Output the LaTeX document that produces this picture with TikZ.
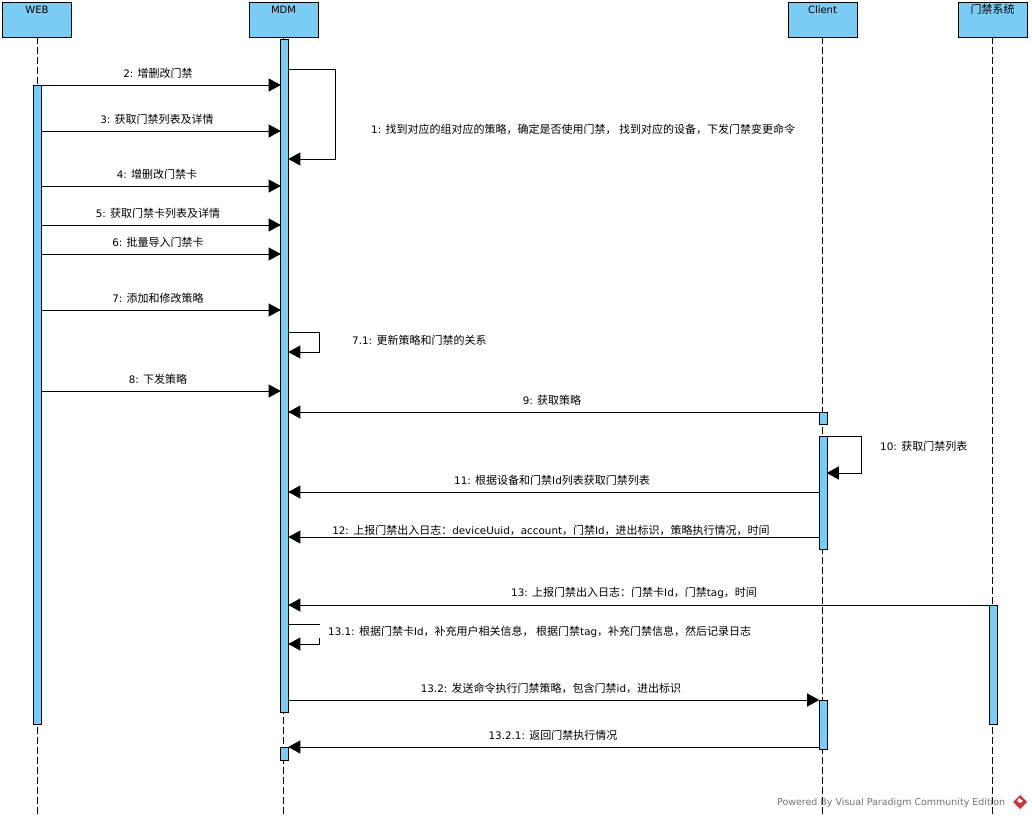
\documentclass[tikz,border=0pt]{standalone}
\usepackage{fontspec}
\setmainfont{DejaVu Sans}
\newfontfamily\cjk{Noto Sans CJK SC}
\usetikzlibrary{arrows.meta}
\definecolor{barblue}{RGB}{122,204,245}
\definecolor{logored}{RGB}{205,50,60}
\newcommand{\zh}[1]{{\cjk\fontsize{11}{13}\selectfont #1}}

\begin{document}
\begin{tikzpicture}[x=1pt,y=-1pt,
		every node/.style={inner sep=0pt,font=\fontsize{10.35}{13}\selectfont},
		head/.style={draw=black,fill=barblue,line width=0.8pt,minimum width=69pt,minimum height=35pt},
		headtext/.style={font=\fontsize{10}{12}\selectfont},
		bar/.style={draw=black,fill=barblue,line width=0.8pt,minimum width=8pt},
		life/.style={line width=0.8pt,dash pattern=on 7pt off 3pt},
		msg/.style={line width=0.8pt,shorten >=-0.6pt,-{Triangle[length=12pt,width=13pt]}}]
		\useasboundingbox (0,0) rectangle (1032,819);
		\fill[white] (0,0) rectangle (1032,819);
		% lifelines
		\node[head] (web) at (37,19.5) {};
		\node[head] (mdm) at (283.5,19.5) {};
		\node[head] (client) at (822.5,19.5) {};
		\node[head] (door) at (992.5,19.5) {};
		\node[headtext] (webname) at (37,9.5) {WEB};
		\node[headtext] (mdmname) at (283.5,9.5) {MDM};
		\node[headtext] (clientname) at (822.5,9.5) {Client};
		\node (doorname) at (992.5,9) {\zh{门禁系统}};
		\coordinate (webend) at (37,815);
		\coordinate (mdmend) at (283.5,815);
		\coordinate (clientend) at (822.5,815);
		\coordinate (doorend) at (992.5,815);
		\draw[life] (web.south) -- (webend);
		\draw[life] (mdm.south) -- (mdmend);
		\draw[life] (client.south) -- (clientend);
		\draw[life] (door.south) -- (doorend);
		% activation bars
		\node[bar,minimum height=639pt] (barweb) at (37,404.5) {};
		\node[bar,minimum height=673pt] (barmdm) at (284.5,375.5) {};
		\node[bar,minimum height=13pt] (barmdmb) at (284.5,753.5) {};
		\node[bar,minimum height=12pt] (barclienta) at (823,418) {};
		\node[bar,minimum height=113pt] (barclientb) at (823,492.5) {};
		\node[bar,minimum height=49pt] (barclientc) at (823,724.5) {};
		\node[bar,minimum height=119pt] (bardoor) at (993,664.5) {};
		% web to mdm
		\draw[msg] (barweb.east |- 0,85) -- (barmdm.west |- 0,85);
		\draw[msg] (barweb.east |- 0,131) -- (barmdm.west |- 0,131);
		\draw[msg] (barweb.east |- 0,186) -- (barmdm.west |- 0,186);
		\draw[msg] (barweb.east |- 0,225) -- (barmdm.west |- 0,225);
		\draw[msg] (barweb.east |- 0,254) -- (barmdm.west |- 0,254);
		\draw[msg] (barweb.east |- 0,310) -- (barmdm.west |- 0,310);
		\draw[msg] (barweb.east |- 0,391) -- (barmdm.west |- 0,391);
		\node (msgtwo) at (158,73) {2: \zh{增删改门禁}};
		\node (msgthree) at (157,119) {3: \zh{获取门禁列表及详情}};
		\node (msgfour) at (157,174) {4: \zh{增删改门禁卡}};
		\node (msgfive) at (158,213) {5: \zh{获取门禁卡列表及详情}};
		\node (msgsix) at (158,242) {6: \zh{批量导入门禁卡}};
		\node (msgseven) at (158,298) {7: \zh{添加和修改策略}};
		\node (msgeight) at (158,379) {8: \zh{下发策略}};
		% self calls
		\draw[msg] (barmdm.east |- 0,69) -- (335,69) -- (335,159) -- (barmdm.east |- 0,159);
		\draw[msg] (barmdm.east |- 0,332) -- (319,332) -- (319,352) -- (barmdm.east |- 0,352);
		\draw[msg] (barclientb.east |- 0,436) -- (861,436) -- (861,473) -- (barclientb.east |- 0,473);
		\draw[msg] (barmdm.east |- 0,624) -- (319,624) -- (319,644) -- (barmdm.east |- 0,644);
		\node[anchor=west] (msgone) at (371,129) {1: \zh{找到对应的组对应的策略，确定是否使用门禁， 找到对应的设备，下发门禁变更命令}};
		\node[anchor=west] (msgsevenone) at (352,340) {7.1: \zh{更新策略和门禁的关系}};
		\node[anchor=west] (msgten) at (880,446) {10: \zh{获取门禁列表}};
		\node[anchor=west,fill=white,inner xsep=10pt,minimum height=13pt] (msgthirteenone) at (318,631.5) {13.1: \zh{根据门禁卡}Id\zh{，补充用户相关信息， 根据门禁}tag\zh{，补充门禁信息，然后记录日志}};
		% client and door system
		\draw[msg] (barclienta.west |- 0,412) -- (barmdm.east |- 0,412);
		\draw[msg] (barclientb.west |- 0,492) -- (barmdm.east |- 0,492);
		\draw[msg] (barclientb.west |- 0,537) -- (barmdm.east |- 0,537);
		\draw[msg] (bardoor.west |- 0,605) -- (barmdm.east |- 0,605);
		\draw[msg] (barmdm.east |- 0,700) -- (barclientc.west |- 0,700);
		\draw[msg] (barclientc.west |- 0,747) -- (barmdmb.east |- 0,747);
		\node (msgnine) at (552,400) {9: \zh{获取策略}};
		\node (msgeleven) at (552,480) {11: \zh{根据设备和门禁}Id\zh{列表获取门禁列表}};
		\node (msgtwelve) at (551,530) {12: \zh{上报门禁出入日志：}deviceUuid\zh{，}account\zh{，门禁}Id\zh{，进出标识，策略执行情况，时间}};
		\node (msgthirteen) at (634,593) {13: \zh{上报门禁出入日志：门禁卡}Id\zh{，门禁}tag\zh{，时间}};
		\node (msgthirteentwo) at (551,688) {13.2: \zh{发送命令执行门禁策略，包含门禁}id\zh{，进出标识}};
		\node (msgreturn) at (553,735) {13.2.1: \zh{返回门禁执行情况}};
		% watermark
		\node[anchor=west,text=black!55,font=\fontsize{9.47}{12}\selectfont] (powered) at (777,803) {Powered By Visual Paradigm Community Edition};
		\fill[logored] (1020,795) -- (1027,802) -- (1020,809) -- (1013,802) -- cycle;
		\fill[white] (1019,798) -- (1023,801) -- (1020,803) -- (1017,801) -- cycle;
	\end{tikzpicture}
\end{document}
